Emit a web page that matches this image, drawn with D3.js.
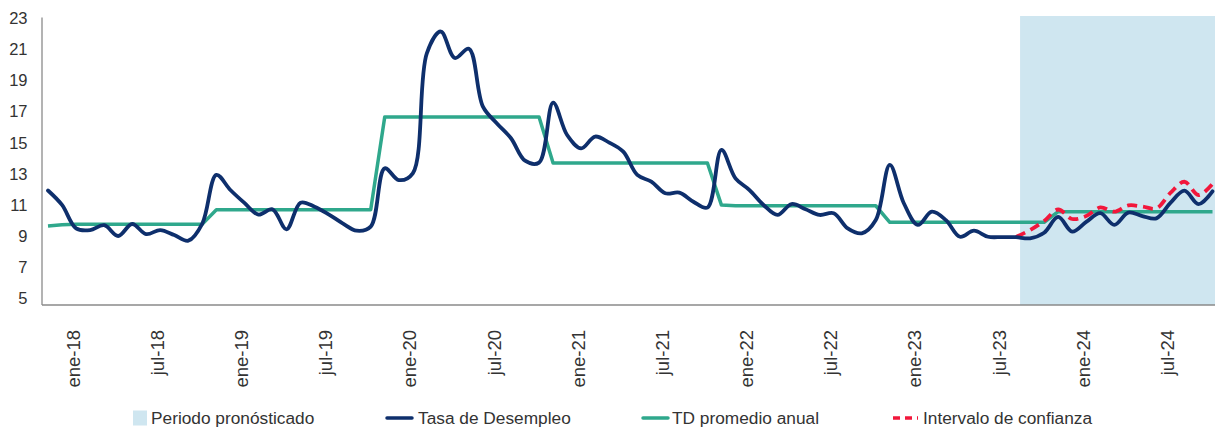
<!DOCTYPE html>
<html><head><meta charset="utf-8">
<script src="https://cdn.jsdelivr.net/npm/d3@7"></script>
<style>
body{margin:0;background:#fff}
svg{display:block}
text{font-family:"Liberation Sans",Arial,sans-serif;fill:#333333}
</style>
</head><body>
<svg id="chart" width="1215" height="432"></svg>
<script>
const categories = [
"ene-18","feb-18","mar-18","abr-18","may-18","jun-18","jul-18","ago-18","sep-18","oct-18","nov-18","dic-18",
"ene-19","feb-19","mar-19","abr-19","may-19","jun-19","jul-19","ago-19","sep-19","oct-19","nov-19","dic-19",
"ene-20","feb-20","mar-20","abr-20","may-20","jun-20","jul-20","ago-20","sep-20","oct-20","nov-20","dic-20",
"ene-21","feb-21","mar-21","abr-21","may-21","jun-21","jul-21","ago-21","sep-21","oct-21","nov-21","dic-21",
"ene-22","feb-22","mar-22","abr-22","may-22","jun-22","jul-22","ago-22","sep-22","oct-22","nov-22","dic-22",
"ene-23","feb-23","mar-23","abr-23","may-23","jun-23","jul-23","ago-23","sep-23","oct-23","nov-23","dic-23",
"ene-24","feb-24","mar-24","abr-24","may-24","jun-24","jul-24","ago-24","sep-24","oct-24","nov-24","dic-24"];

const tasaDesempleo = [
11.9,10.97,9.47,9.36,9.67,8.98,9.75,9.1,9.36,9.04,8.68,9.78,
12.9,11.93,11.1,10.35,10.69,9.41,11.12,10.86,10.37,9.79,9.32,9.58,
13.32,12.57,13.0,20.7,22.1,20.4,21.0,17.28,16.2,15.25,13.81,13.69,
17.54,15.46,14.6,15.36,14.97,14.39,12.9,12.47,11.72,11.76,11.18,10.8,
14.5,12.68,11.93,10.97,10.33,11.03,10.69,10.33,10.44,9.47,9.15,10.0,
13.54,11.08,9.69,10.54,10.0,8.93,9.32,8.93,8.91,8.9,8.83,9.19,
10.2,9.26,9.88,10.44,9.69,10.48,10.26,10.11,11.1,11.89,11.03,11.85];

const tdPromedioAnual = [
9.62,9.7,9.74,9.74,9.74,9.74,9.74,9.74,9.74,9.74,9.74,9.74,
10.66,10.66,10.66,10.66,10.66,10.66,10.66,10.66,10.66,10.66,10.66,10.66,
16.62,16.62,16.62,16.62,16.62,16.62,16.62,16.62,16.62,16.62,16.62,16.62,
13.66,13.66,13.66,13.66,13.66,13.66,13.66,13.66,13.66,13.66,13.66,13.66,
10.96,10.92,10.92,10.92,10.92,10.92,10.92,10.92,10.92,10.92,10.92,10.92,
9.86,9.86,9.86,9.86,9.86,9.86,9.86,9.86,9.86,9.86,9.86,9.86,
10.54,10.54,10.54,10.54,10.54,10.54,10.54,10.54,10.54,10.54,10.54,10.54];

const intervaloCategories = ["oct-23","nov-23","dic-23","ene-24","feb-24","mar-24","abr-24","may-24","jun-24","jul-24","ago-24","sep-24","oct-24","nov-24","dic-24"];
const intervaloConfianza = [8.92,9.36,9.94,10.68,10.07,10.26,10.81,10.54,10.94,10.87,10.75,11.74,12.46,11.61,12.32];

const periodoPronostico = ["oct-23","dic-24"];
const yTicks = [5,7,9,11,13,15,17,19,21,23];
const xTickLabels = ["ene-18","jul-18","ene-19","jul-19","ene-20","jul-20","ene-21","jul-21","ene-22","jul-22","ene-23","jul-23","ene-24","jul-24"];
const legendLabels = ["Periodo pronósticado","Tasa de Desempleo","TD promedio anual","Intervalo de confianza"];

const colors = {navy:"#0e2f6c", green:"#2fa88c", red:"#f2173b", shade:"#cfe6f0", axis:"#8a8a8a"};

const svg = d3.select("#chart");
const W = 1215;
const x = d3.scalePoint().domain(categories).range([48, 1212.5]);
const y = d3.scaleLinear().domain([5, 23]).range([298, 17.5]);
const axisBottomY = 305, axisLeftX = 42;

// forecast shading
svg.append("rect")
  .attr("x", x(periodoPronostico[0]) + 4)
  .attr("y", y(23) - 1.5)
  .attr("width", W - (x(periodoPronostico[0]) + 4))
  .attr("height", axisBottomY - (y(23) - 1.5))
  .attr("fill", colors.shade);

// axes lines
svg.append("line").attr("x1", axisLeftX).attr("x2", axisLeftX).attr("y1", y(23)).attr("y2", axisBottomY)
  .attr("stroke", colors.axis).attr("stroke-width", 1.3);
svg.append("line").attr("x1", axisLeftX).attr("x2", W).attr("y1", axisBottomY).attr("y2", axisBottomY)
  .attr("stroke", colors.axis).attr("stroke-width", 1.5);

// y labels
const yAxis = d3.axisLeft(y).tickValues(yTicks).tickSize(0).tickPadding(0);
const gy = svg.append("g").attr("transform", "translate(27.5,0)").call(yAxis);
gy.select(".domain").remove();
gy.selectAll("text").attr("font-size", 16.5).attr("fill", "#333333")
  .style("font-family", '"Liberation Sans",Arial,sans-serif').attr("dy", "0.36em");

// x labels
svg.append("g").selectAll("text").data(xTickLabels).join("text")
  .attr("transform", d => `translate(${x(d) + 25},330) rotate(-90)`)
  .attr("text-anchor", "end").attr("dy", "0.36em")
  .attr("font-size", 18.5)
  .text(d => d);

// lines
const lineSmooth = d3.line().x(d => x(d[0])).y(d => y(d[1])).curve(d3.curveCatmullRom.alpha(0.5));
const lineStraight = d3.line().x(d => x(d[0])).y(d => y(d[1]));

svg.append("path").datum(categories.map((c, i) => [c, tdPromedioAnual[i]]))
  .attr("d", lineStraight).attr("fill", "none").attr("stroke", colors.green)
  .attr("stroke-width", 3.5).attr("stroke-linejoin", "round");

svg.append("path").datum(intervaloCategories.map((c, i) => [c, intervaloConfianza[i]]))
  .attr("d", lineSmooth).attr("fill", "none").attr("stroke", colors.red)
  .attr("stroke-width", 3.8).attr("stroke-dasharray", "10,6");

svg.append("path").datum(categories.map((c, i) => [c, tasaDesempleo[i]]))
  .attr("d", lineSmooth).attr("fill", "none").attr("stroke", colors.navy)
  .attr("stroke-width", 3.8).attr("stroke-linejoin", "round").attr("stroke-linecap", "round");

// legend
const lg = svg.append("g");
const ly = 418;
const legendX = [133, 387, 643, 893];
lg.append("rect").attr("x", legendX[0]).attr("y", ly - 7.5).attr("width", 14).attr("height", 15).attr("fill", colors.shade);
lg.append("text").attr("x", legendX[0] + 18).attr("y", ly).attr("dy", "0.36em").attr("font-size", 17.3).text(legendLabels[0]);
lg.append("line").attr("x1", legendX[1]).attr("x2", legendX[1] + 25).attr("y1", ly).attr("y2", ly)
  .attr("stroke", colors.navy).attr("stroke-width", 3.5).attr("stroke-linecap", "round");
lg.append("text").attr("x", legendX[1] + 31).attr("y", ly).attr("dy", "0.36em").attr("font-size", 17.3).text(legendLabels[1]);
lg.append("line").attr("x1", legendX[2]).attr("x2", legendX[2] + 25).attr("y1", ly).attr("y2", ly)
  .attr("stroke", colors.green).attr("stroke-width", 3.5).attr("stroke-linecap", "round");
lg.append("text").attr("x", legendX[2] + 29).attr("y", ly).attr("dy", "0.36em").attr("font-size", 17.3).text(legendLabels[2]);
lg.append("line").attr("x1", legendX[3]).attr("x2", legendX[3] + 25).attr("y1", ly).attr("y2", ly)
  .attr("stroke", colors.red).attr("stroke-width", 3.5).attr("stroke-dasharray", "7,5");
lg.append("text").attr("x", legendX[3] + 30).attr("y", ly).attr("dy", "0.36em").attr("font-size", 17.3).text(legendLabels[3]);
</script>
</body></html>
